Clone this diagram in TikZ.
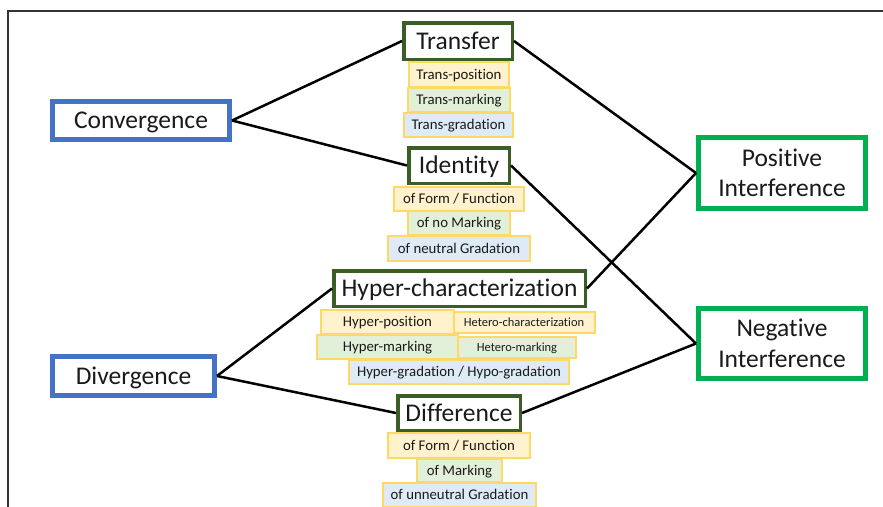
\documentclass[tikz,border=0pt]{standalone}
\usepackage{fontspec}
\setmainfont{Carlito}[Ligatures=NoCommon]
\definecolor{cblue}{HTML}{4472C4}
\definecolor{dgreen}{HTML}{3B5E27}
\definecolor{bgreen}{HTML}{00B050}
\definecolor{gold}{HTML}{FFD966}
\definecolor{fyel}{HTML}{FFF2CC}
\definecolor{fgrn}{HTML}{E2F0D9}
\definecolor{fblu}{HTML}{DEEBF7}
\definecolor{txt}{HTML}{1A1A1A}
\tikzset{
  bigbox/.style={draw, inner sep=0pt, align=center, text=txt, fill=white,
    font=\fontsize{25.5}{30.5}\selectfont},
  bigone/.style={text height=16.4pt, text depth=0pt},
  mainbox/.style={bigbox, draw=cblue, line width=5pt},
  interbox/.style={bigbox, draw=bgreen, line width=5pt},
  catbox/.style={bigbox, bigone, draw=dgreen, line width=3.5pt},
  subbox/.style={draw=gold, line width=1.2pt, inner sep=0pt, text=txt,
    font=\fontsize{14.8}{17}\selectfont, text height=9.5pt, text depth=0pt},
  ybox/.style={subbox, fill=fyel},
  gbox/.style={subbox, fill=fgrn},
  bbox/.style={subbox, fill=fblu},
  smalltxt/.style={font=\fontsize{12.5}{15}\selectfont, text height=8pt},
  conn/.style={draw=black, line width=2.5pt},
  frameline/.style={draw=black!80, line width=1.2pt}
}
\begin{document}
\begin{tikzpicture}[x=1pt,y=-1pt]
\useasboundingbox (0,0) rectangle (883,506);
\draw[frameline] (8,507) -- (8,11) -- (884,11);

% main boxes
\node[mainbox, bigone, minimum width=177pt, minimum height=38pt] (conv) at (141,120.5) {Convergence};
\node[mainbox, bigone, minimum width=162pt, minimum height=39pt] (div) at (133.5,376) {Divergence};
\node[interbox, minimum width=167pt, minimum height=71pt] (pos) at (782,173) {Positive\\Interference};
\node[interbox, minimum width=167pt, minimum height=70pt] (neg) at (782,343.5) {Negative\\Interference};

% category boxes
\node[catbox, minimum width=108.5pt, minimum height=36.5pt] (transfer) at (458,41) {Transfer};
\node[catbox, minimum width=100.5pt, minimum height=35.5pt] (identity) at (459,165.5) {Identity};
\node[catbox, minimum width=251.5pt, minimum height=35.5pt] (hyper) at (459.5,288.5) {Hyper-characterization};
\node[catbox, minimum width=122.5pt, minimum height=34.5pt] (diff) at (459,413) {Difference};

% sub boxes: Transfer
\node[ybox, minimum width=100pt, minimum height=25pt] (tpos) at (459,74.5) {Trans-position};
\node[gbox, minimum width=102pt, minimum height=24pt] (tmark) at (459,100) {Trans-marking};
\node[bbox, minimum width=109pt, minimum height=24pt] (tgrad) at (458.5,125) {Trans-gradation};

% sub boxes: Identity
\node[ybox, minimum width=130pt, minimum height=24pt] (iform) at (459,199) {of Form / Function};
\node[gbox, minimum width=102pt, minimum height=24pt] (imark) at (459,223) {of no Marking};
\node[bbox, minimum width=142pt, minimum height=25pt] (igrad) at (459,248.5) {of neutral Gradation};

% sub boxes: Hyper-characterization
\node[ybox, smalltxt, minimum width=142pt, minimum height=21pt] (hetchar) at (524,322.5) {Hetero-characterization};
\node[ybox, minimum width=133pt, minimum height=24pt] (hpos) at (387.5,322) {Hyper-position};
\node[gbox, smalltxt, minimum width=118pt, minimum height=21pt] (hetmark) at (517,347.5) {Hetero-marking};
\node[gbox, minimum width=141pt, minimum height=24pt] (hmark) at (387.5,347) {Hyper-marking};
\node[bbox, minimum width=220pt, minimum height=24pt] (hgrad) at (459,372) {Hyper-gradation / Hypo-gradation};

% sub boxes: Difference
\node[ybox, minimum width=142pt, minimum height=25pt] (dform) at (459,445.5) {of Form / Function};
\node[gbox, minimum width=85pt, minimum height=23pt] (dmark) at (459.5,470.5) {of Marking};
\node[bbox, minimum width=153pt, minimum height=24pt] (dgrad) at (459.5,495) {of unneutral Gradation};

% connectors
\draw[conn] (conv.east) -- (transfer.west);
\draw[conn] (conv.east) -- (identity.west);
\draw[conn] (div.east) -- (hyper.west);
\draw[conn] (div.east) -- (diff.west);
\draw[conn] (transfer.east) -- (pos.west);
\draw[conn] (hyper.east) -- (pos.west);
\draw[conn] (identity.east) -- (neg.west);
\draw[conn] (diff.east) -- (neg.west);
\end{tikzpicture}
\end{document}
